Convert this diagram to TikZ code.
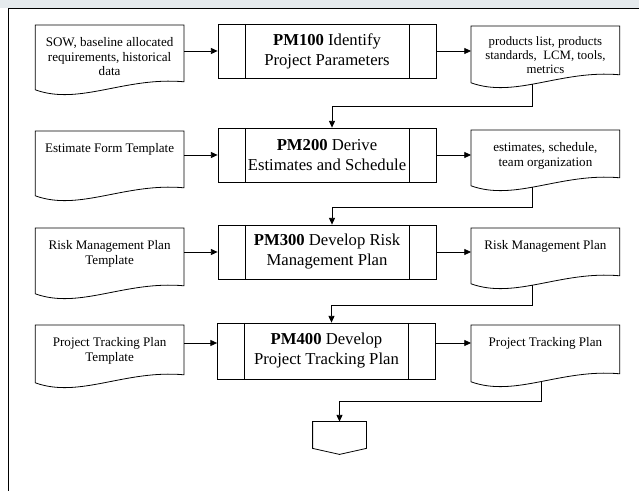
\documentclass[tikz,border=0pt]{standalone}
\usepackage{fontspec}
\setmainfont{Liberation Serif}
\usetikzlibrary{arrows.meta, positioning}
\definecolor{bandgray}{HTML}{E5EAED}
\tikzset{
  proc/.style={draw, minimum width=163.5pt, minimum height=40.5pt, align=center,
    inner sep=1pt, font=\fontsize{12.5}{15}\selectfont,
    path picture={
      \draw ([xshift=20.25pt]path picture bounding box.north west) -- ([xshift=20.25pt]path picture bounding box.south west)
            ([xshift=-20.25pt]path picture bounding box.north east) -- ([xshift=-20.25pt]path picture bounding box.south east);}},
  doc/.style={minimum width=111pt, inner sep=0pt},
  doctext/.style={anchor=north, align=center, inner sep=0pt, yshift=-9pt,
    font=\fontsize{9.8}{11}\selectfont},
}
% document symbol: wavy lower edge, tap = point on the wave for outgoing lines
\newcommand{\wavedoc}[2][0.45]{%
  \draw ([yshift=6pt]#2.south east) -- (#2.north east) -- (#2.north west) -- (#2.south west)
    .. controls ([xshift=33.3pt,yshift=-12pt]#2.south west) and ([xshift=-44.4pt,yshift=10pt]#2.south east) ..
    ([yshift=6pt]#2.south east) coordinate[pos=#1] (#2-tap) -- cycle;}

\begin{document}
\begin{tikzpicture}[x=0.75pt, y=-0.75pt, line width=0.6pt, >={Triangle[length=5pt,width=4.5pt]}]
  \useasboundingbox (0,0) rectangle (639,491);
  % frame
  \fill[bandgray] (0,0) rectangle (639,8);
  \draw[line width=0.75pt] (639,9) -- (8.5,9) -- (8.5,491);

  % processes
  \node[proc] (pm100) at (327,51)  {\textbf{PM100} Identify\\Project Parameters};
  \node[proc] (pm200) at (327,155) {\textbf{PM200} Derive\\Estimates and Schedule};
  \node[proc] (pm300) at (327,252) {\textbf{PM300} Develop Risk\\Management Plan};
  \node[proc, minimum height=42pt] (pm400) at (326.5,351) {\textbf{PM400} Develop\\Project Tracking Plan};

  % inputs
  \node[doc, minimum height=48pt, anchor=north east,
    label={[doctext]north:{SOW, baseline allocated\\requirements, historical\\data}}] (sow) at (184,25) {};
  \node[doc, minimum height=48pt, anchor=north east,
    label={[doctext]north:{Estimate Form Template}}] (estform) at (184,131) {};
  \node[doc, minimum height=48.75pt, anchor=north east,
    label={[doctext]north:{Risk Management Plan\\Template}}] (risktpl) at (184,228) {};
  \node[doc, minimum height=42.75pt, anchor=north east,
    label={[doctext]north:{Project Tracking Plan\\Template}}] (trktpl) at (184,325) {};

  % outputs
  \node[doc, minimum height=42pt, anchor=north west,
    label={[doctext, yshift=1.5pt, font=\fontsize{9.6}{10.5}\selectfont]north:{products list, products\\standards,~ LCM, tools,\\metrics}}] (out1) at (471,26) {};
  \node[doc, minimum height=41.25pt, anchor=north west,
    label={[doctext]north:{estimates, schedule,\\team organization}}] (out2) at (471,130) {};
  \node[doc, minimum height=41.25pt, anchor=north west,
    label={[doctext]north:{Risk Management Plan}}] (out3) at (471,228) {};
  \node[doc, minimum height=42pt, anchor=north west,
    label={[doctext]north:{Project Tracking Plan}}] (out4) at (471,325) {};

  \wavedoc{sow} \wavedoc{estform} \wavedoc{risktpl} \wavedoc{trktpl}
  \wavedoc{out1} \wavedoc{out2} \wavedoc{out3} \wavedoc[0.51]{out4}

  % off-page connector
  \node[minimum width=39.75pt, minimum height=19.5pt, inner sep=0pt] (offpg) at (339.5,435) {};
  \draw (offpg.north west) -- (offpg.north east) -- (offpg.south east)
    -- ([yshift=-4.5pt]offpg.south) -- (offpg.south west) -- cycle;

  % flow into and out of each process
  \draw[->] (sow.east |- pm100.west) -- (pm100.west);
  \draw[->] (pm100.east) -- (out1.west |- pm100.east);
  \draw[->] (estform.east |- pm200.west) -- (pm200.west);
  \draw[->] (pm200.east) -- (out2.west |- pm200.east);
  \draw[->] (risktpl.east |- pm300.west) -- (pm300.west);
  \draw[->] (pm300.east) -- (out3.west |- pm300.east);
  \coordinate (pm400-in) at ([yshift=6pt]pm400.west);
  \coordinate (pm400-out) at ([yshift=6pt]pm400.east);
  \draw[->] (trktpl.east |- pm400-in) -- (pm400-in);
  \draw[->] (pm400-out) -- (out4.west |- pm400-out);

  % outputs feed the next step
  \draw[->] (out1-tap) -- ++(0pt,-17pt) -| ([xshift=3.75pt]pm200.north);
  \draw[->] (out2-tap) -- ++(0pt,-15pt) -| ([xshift=3.75pt]pm300.north);
  \draw[->] (out3-tap) -- ++(0pt,-15pt) -| ([xshift=3.75pt]pm400.north);
  \draw[->] (out4-tap) -- ++(0pt,-15pt) -| (offpg.north);
\end{tikzpicture}
\end{document}
